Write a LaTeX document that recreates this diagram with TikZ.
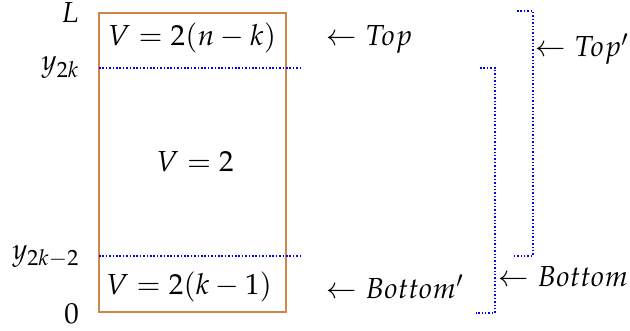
\documentclass[tikz,border=0pt]{standalone}
\usepackage[T1]{fontenc}
\usepackage{mathpazo}
\definecolor{boxbrown}{RGB}{204,136,72}
\tikzset{
  dotline/.style={draw=blue, line width=1.5pt, dash pattern=on 1.5pt off 1.9pt},
  lbl/.style={inner sep=0pt, font=\fontsize{29}{34}\selectfont},
}
\begin{document}
\begin{tikzpicture}[x=1pt,y=-1pt]
\useasboundingbox (0,0) rectangle (630,331);
% region box
\draw[boxbrown, line width=2pt] (99,12.7) rectangle (285.5,312);
% dotted levels
\coordinate (t0) at (99,68);
\coordinate (t1) at (302,68);
\coordinate (b0) at (99,256);
\coordinate (b1) at (302,256);
\draw[dotline] (t0) -- (t1);
\draw[dotline] (b0) -- (b1);
% left labels
\node[lbl, anchor=east] (L) at (79,13) {$L$};
\node[lbl, anchor=east] (y2k) at (79,68) {$y_{2k}$};
\node[lbl, anchor=east] (y2k2) at (79,256) {$y_{2k-2}$};
\node[lbl, anchor=east] (zero) at (79,314) {$0$};
% box labels
\node[lbl] (vtop) at (192,38) {$V=2(n-k)$};
\node[lbl] (vmid) at (195,162) {$V=2$};
\node[lbl] (vbot) at (189,287) {$V=2(k-1)$};
% right arrows labels
\node[lbl, anchor=west] (top) at (326,39) {$\leftarrow Top$};
\node[lbl, anchor=west] (botp) at (326,287) {$\leftarrow Bottom'$};
% brackets
\coordinate (ba) at (480,68);
\coordinate (bb) at (495,68);
\coordinate (bc) at (495,313);
\coordinate (bd) at (476,313);
\draw[dotline] (ba) -- (bb) -- (bc) -- (bd);
\coordinate (ta) at (517,11);
\coordinate (tb) at (533,11);
\coordinate (tc) at (533,256);
\coordinate (td) at (513,256);
\draw[dotline] (ta) -- (tb) -- (tc) -- (td);
\node[lbl, anchor=west] (topp) at (535,49) {$\leftarrow Top'$};
\node[lbl, anchor=west] (bot) at (498,277) {$\leftarrow Bottom$};
\end{tikzpicture}
\end{document}
